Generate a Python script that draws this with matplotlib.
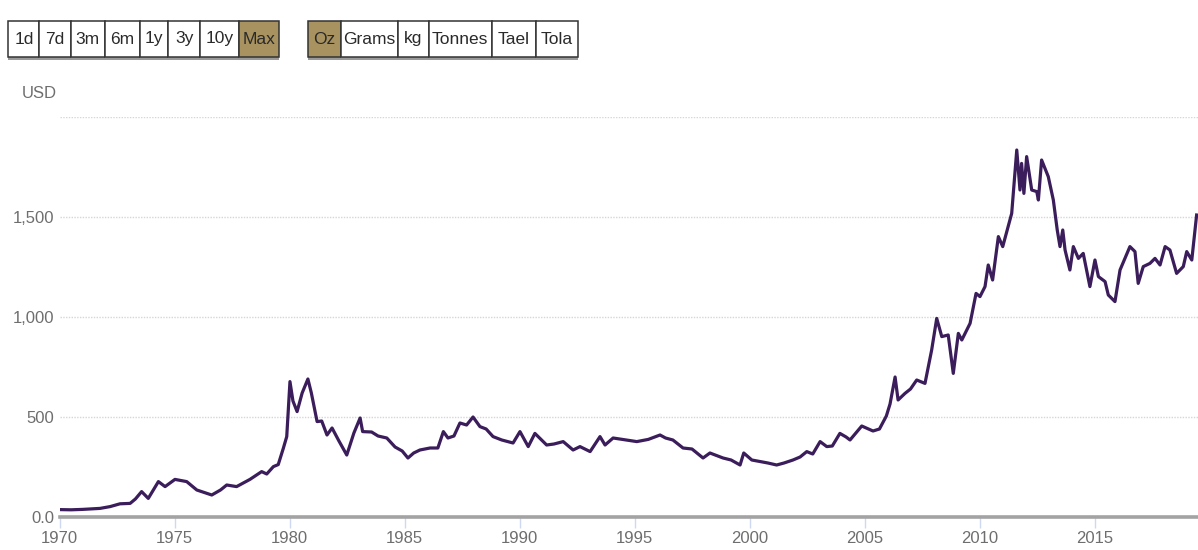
import matplotlib.pyplot as plt
from matplotlib.patches import Rectangle
from matplotlib.ticker import FuncFormatter
import numpy as np

# gold price, USD per oz (decimal year, price)
years = [1970.0, 1970.5, 1971.0, 1971.76, 1972.2, 1972.63, 1973.07, 1973.3, 1973.57, 1973.86,
         1974.3, 1974.59, 1975.02, 1975.53, 1975.97, 1976.62, 1977.0, 1977.27, 1977.7, 1978.28,
         1978.79, 1979.01, 1979.3, 1979.51, 1979.73, 1979.88, 1979.97, 1980.02, 1980.15, 1980.33,
         1980.55, 1980.8, 1980.95, 1981.2, 1981.4, 1981.63, 1981.85, 1982.15, 1982.49, 1982.8,
         1983.07, 1983.18, 1983.57, 1983.85, 1984.23, 1984.59, 1984.9, 1985.15, 1985.4, 1985.67,
         1986.11, 1986.45, 1986.69, 1986.89, 1987.15, 1987.41, 1987.7, 1987.98, 1988.28, 1988.55,
         1988.85, 1989.23, 1989.72, 1990.02, 1990.38, 1990.67, 1991.18, 1991.5, 1991.9, 1992.33,
         1992.63, 1993.07, 1993.5, 1993.72, 1994.07, 1994.66, 1995.1, 1995.6, 1996.11, 1996.35,
         1996.67, 1997.11, 1997.5, 1997.98, 1998.28, 1998.85, 1999.2, 1999.59, 1999.75, 2000.1,
         2000.46, 2000.8, 2001.18, 2001.5, 2001.89, 2002.2, 2002.49, 2002.75, 2003.07, 2003.36,
         2003.6, 2003.93, 2004.2, 2004.37, 2004.88, 2005.37, 2005.65, 2005.95, 2006.11, 2006.33,
         2006.46, 2006.76, 2007.0, 2007.27, 2007.63, 2007.92, 2008.14, 2008.36, 2008.64, 2008.86,
         2009.08, 2009.23, 2009.59, 2009.85, 2010.02, 2010.24, 2010.38, 2010.57, 2010.82, 2011.01,
         2011.4, 2011.62, 2011.76, 2011.83, 2011.93, 2012.05, 2012.27, 2012.49, 2012.56, 2012.7,
         2012.99, 2013.21, 2013.38, 2013.5, 2013.62, 2013.72, 2013.93, 2014.08, 2014.3, 2014.51,
         2014.8, 2015.02, 2015.17, 2015.46, 2015.6, 2015.89, 2016.11, 2016.54, 2016.76, 2016.9,
         2017.12, 2017.41, 2017.63, 2017.85, 2018.07, 2018.28, 2018.57, 2018.86, 2019.01, 2019.23,
         2019.44]
prices = [37, 36, 38, 43, 52, 66, 68, 90, 127, 93,
          177, 152, 188, 177, 135, 110, 135, 160, 152, 188,
          227, 215, 252, 262, 343, 402, 585, 677, 580, 527,
          620, 690, 620, 477, 480, 410, 445, 380, 310, 420,
          495, 427, 425, 405, 395, 350, 330, 295, 320, 335,
          345, 345, 427, 395, 405, 470, 460, 500, 452, 440,
          402, 385, 370, 427, 352, 418, 360, 365, 377, 335,
          352, 327, 402, 360, 395, 385, 377, 388, 410, 395,
          385, 345, 340, 295, 320, 295, 285, 260, 320, 285,
          277, 270, 260, 270, 285, 300, 327, 315, 377, 352,
          355, 418, 400, 385, 455, 430, 440, 505, 565, 700,
          585, 618, 640, 685, 668, 835, 993, 902, 910, 718,
          918, 885, 968, 1118, 1102, 1152, 1260, 1185, 1402, 1352,
          1518, 1835, 1635, 1768, 1618, 1802, 1635, 1627, 1585, 1785,
          1702, 1585, 1435, 1352, 1435, 1335, 1235, 1352, 1293, 1318,
          1152, 1285, 1202, 1177, 1110, 1077, 1235, 1352, 1327, 1168,
          1252, 1268, 1293, 1260, 1352, 1335, 1218, 1252, 1327, 1285,
          1510]

x_ticks = [1970, 1975, 1980, 1985, 1990, 1995, 2000, 2005, 2010, 2015]
y_ticks = [0, 500, 1000, 1500, 2000]
range_buttons = ["1d", "7d", "3m", "6m", "1y", "3y", "10y", "Max"]
unit_buttons = ["Oz", "Grams", "kg", "Tonnes", "Tael", "Tola"]

FONT = ['Liberation Sans Narrow', 'Liberation Sans', 'DejaVu Sans']
plt.rcParams['font.family'] = FONT

W, H = 1198, 550
fig = plt.figure(figsize=(W / 100, H / 100), dpi=100)

# axes placed in pixel terms: x=59.5 -> 1970, y=517 -> 0, y=117 -> 2000
ax = fig.add_axes([59.5 / W, 1 - 517 / H, (W - 59.5) / W, 400 / H])
ax.plot(years, prices, color='#3a1d5a', lw=2.3, solid_joinstyle='round', zorder=3)

ax.set_xlim(1970, 2019.5)
ax.set_ylim(0, 2000)
for s in ax.spines.values():
    s.set_visible(False)

ax.set_xticks(x_ticks)
ax.set_yticks(y_ticks)


def yfmt(v, pos):
    if v == 0:
        return "0.0"
    if v >= 2000:
        return ""
    return "{:,.0f}".format(v)


ax.yaxis.set_major_formatter(FuncFormatter(yfmt))
ax.tick_params(axis='y', length=0, pad=4, labelsize=12, labelcolor='#6e6e6e')
ax.tick_params(axis='x', length=8, width=1, color='#cdd8f2', pad=2,
               labelsize=12, labelcolor='#6e6e6e')
ax.yaxis.grid(True, linestyle=(0, (1, 1)), color='#d6d6d6', lw=1)
ax.set_axisbelow(True)
ax.axhline(0, color='#a3a3a3', lw=2.6, clip_on=False, zorder=2)

fig.text(57 / W, 1 - 93 / H, "USD", ha='right', va='center', fontsize=12, color='#6e6e6e')

# selector buttons along the top
range_edges = [8.4, 39.4, 70.8, 104.5, 139.7, 168.4, 199.8, 239.2, 279.4]
unit_edges = [308, 340.6, 398, 428.6, 491.8, 535.8, 578]
top, bot = 21, 57


def draw_buttons(labels, edges, selected):
    for i, lab in enumerate(labels):
        x0, x1 = edges[i], edges[i + 1]
        fc = '#a8925f' if lab == selected else 'white'
        fig.add_artist(Rectangle((x0 / W, 1 - (bot + 2.5) / H), (x1 - x0) / W, 2.5 / H,
                                 transform=fig.transFigure, fc='#9a9a9a', ec='none'))
        fig.add_artist(Rectangle((x0 / W, 1 - bot / H), (x1 - x0) / W, (bot - top) / H,
                                 transform=fig.transFigure, fc=fc, ec='#333333', lw=1.1))
        fig.text((x0 + x1) / 2 / W, 1 - (top + bot) / 2 / H, lab, ha='center', va='center',
                 fontsize=12.5, color='#2a2a2a')


draw_buttons(range_buttons, range_edges, "Max")
draw_buttons(unit_buttons, unit_edges, "Oz")

fig.savefig("out.png", dpi=100)
